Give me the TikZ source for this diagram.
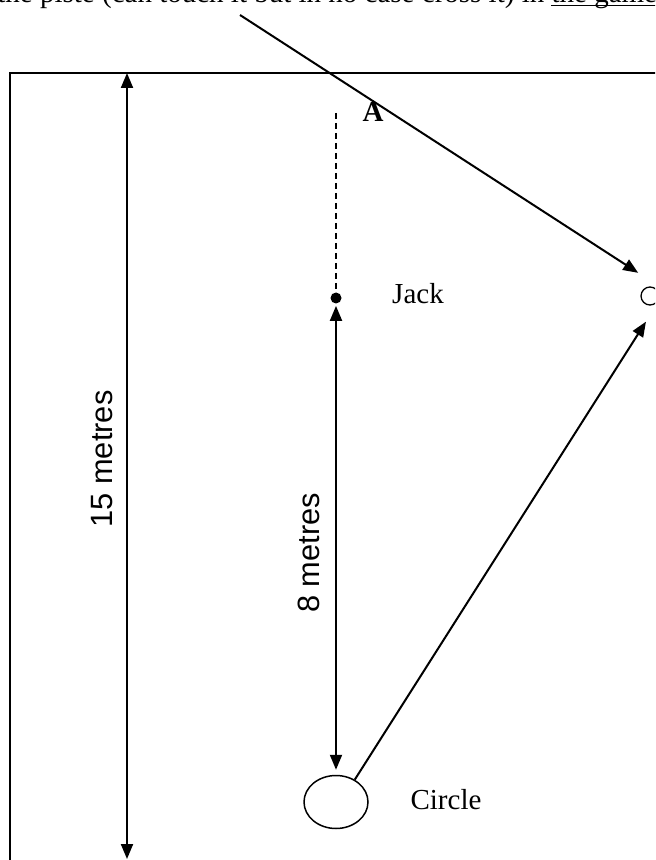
\documentclass[tikz,border=0pt]{standalone}
\usepackage{fontspec}
\setmainfont{Liberation Serif}
\newfontfamily\arialfont{Liberation Sans}
\usetikzlibrary{arrows.meta,shapes.geometric}

\begin{document}
\begin{tikzpicture}[x=0.5pt,y=-0.5pt,
    dim/.style={line width=1pt,{Triangle[length=7.5pt,width=6pt]}-{Triangle[length=7.5pt,width=6pt]}},
    toball/.style={line width=1pt,-{Triangle[length=7.5pt,width=6pt]}},
    lbl/.style={font=\fontsize{14.5}{17}\selectfont,inner sep=0pt},
    metres/.style={font=\arialfont\fontsize{15.4}{18}\selectfont,rotate=90,inner sep=0pt}]
    \useasboundingbox (0,0) rectangle (655,860);
    \clip (0,0) rectangle (655,860);

    \draw[line width=0.75pt] (10,880) -- (10,73) -- (680,73);

    \node[lbl,anchor=base west] (note) at (-3,3) {the piste (can touch it but in no case cross it) in \underline{\smash{the game}}};

    \node[shape=circle,fill=black,inner sep=0pt,minimum size=5.5pt] (jack) at (336,298) {};
    \node[shape=ellipse,draw=black,line width=0.75pt,minimum width=32pt,minimum height=26.5pt,inner sep=0pt] (circ) at (336,802) {};
    \node[shape=circle,draw=black,line width=0.65pt,minimum size=9pt,inner sep=0pt,outer sep=8.5pt] (ball) at (650,296) {};

    \coordinate (dtop) at (336,113);
    \coordinate (top) at (127,73);
    \coordinate (bottom) at (127,859);
    \coordinate (thrower) at (240,15);

    \node[lbl] (jlabel) at (418,294) {Jack};
    \node[lbl] (clabel) at (446,800) {Circle};
    \node[lbl,font=\fontsize{14.5}{17}\selectfont\bfseries] (alabel) at (373,112) {A};
    \node[metres] (fifteen) at (102,459) {15 metres};
    \node[metres] (eight) at (309,553) {8 metres};

    \draw[dim] (top) to (bottom);
    \draw[line width=0.65pt,dash pattern=on 3pt off 2pt] (dtop) to (jack);
    \draw[dim,shorten <=1pt,shorten >=2.5pt] (jack) to (circ);
    \draw[toball] (thrower) to (ball.117);
    \draw[toball] (circ.50) to (ball.261);
\end{tikzpicture}
\end{document}
